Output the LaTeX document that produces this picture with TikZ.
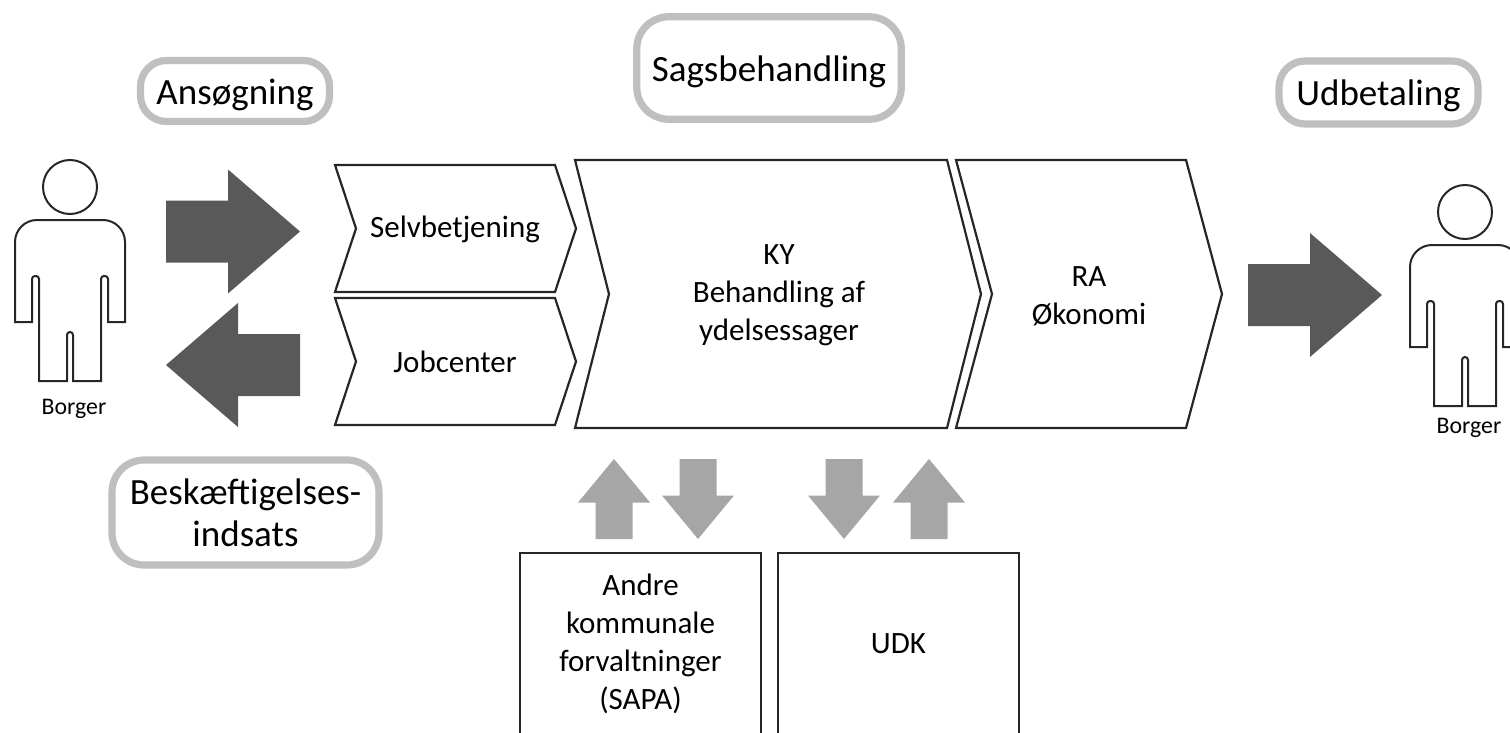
\documentclass[tikz,border=0pt]{standalone}
\usepackage{fontspec}
\setmainfont{Carlito}
\usetikzlibrary{calc}

\begin{document}
\begin{tikzpicture}[x=0.5pt,y=-0.5pt,
    phase/.style={draw=boxgray,line width=3.6pt,align=center,inner sep=0pt,
        font=\fontsize{18.5}{21}\selectfont},
    oneline/.style={text height=16.5pt},
    stagetext/.style={align=center,font=\fontsize{15.5}{19}\selectfont},
    stage/.style={draw=black!85,line width=1.1pt,line join=miter},
    person/.style={draw=black!85,line width=1pt}]
    \definecolor{boxgray}{HTML}{BFBFBF}
    \definecolor{darkarrow}{HTML}{595959}
    \definecolor{lightarrow}{HTML}{A6A6A6}

    \clip (0,0) rectangle (1510,733);

    % phase labels
    \node[phase,oneline,minimum width=94.5pt,minimum height=30.5pt,rounded corners=13pt]
        (ans) at (235,91) {Ansøgning};
    \node[phase,oneline,minimum width=132.25pt,minimum height=51.25pt,rounded corners=16pt]
        (sag) at (769,68) {Sagsbehandling};
    \node[phase,oneline,minimum width=99.5pt,minimum height=31.5pt,rounded corners=13pt]
        (udb) at (1378.5,92.5) {Udbetaling};
    \node[phase,minimum width=133.5pt,minimum height=52.5pt,rounded corners=16pt]
        (besk) at (245.5,512.5) {Beskæftigelses-\\indsats};

    % citizens
    \foreach \px/\py/\by/\nm in {70/220/189/left,1465/245/183/right} {
        \scope[shift={(\px,\py)}]
        \draw[person] (0,-33) circle (13.5pt);
        \draw[person] (-55,102) [rounded corners=11pt] -- (-55,0) -- (55,0)
            [sharp corners] -- (55,102) -- (38,102)
            [rounded corners=1.5pt] -- (38,56) -- (31,56)
            [sharp corners] -- (31,161) -- (3,161)
            [rounded corners=1.5pt] -- (3,112) -- (-3,112)
            [sharp corners] -- (-3,161) -- (-31,161)
            [rounded corners=1.5pt] -- (-31,56) -- (-38,56)
            [sharp corners] -- (-38,102) -- cycle;
        \node[font=\fontsize{11.9}{14}\selectfont] (borger-\nm) at (4,\by) {Borger};
        \endscope
    }

    % big arrows
    \foreach \ax/\ay/\rot in {166/231.5/0,300/365/180,1248/295/0}
        \fill[darkarrow,shift={(\ax,\ay)},rotate=\rot]
            (0,-31) -- (62,-31) -- (62,-62) -- (134,0) -- (62,62) -- (62,31) -- (0,31) -- cycle;

    % chevrons
    \foreach \l/\t/\r/\b/\d in {335/165/555/292/21,335/298/555/425/21,
                                575/160/947/428/34,956/160/1186/428/36}
        \draw[stage] (\l,\t) -- (\r,\t) -- ({\r+\d},{(\t+\b)/2}) -- (\r,\b)
            -- (\l,\b) -- ({\l+\d},{(\t+\b)/2}) -- cycle;
    \node[stagetext] (selv) at (455,229) {Selvbetjening};
    \node[stagetext] (job) at (455,362) {Jobcenter};
    \node[stagetext] (ky) at (779,295) {KY\\Behandling af\\ydelsessager};
    \node[stagetext] (ra) at (1089,296) {RA\\Økonomi};

    % small arrows
    \foreach \ax/\ay/\rot in {614/539/90,698/459/-90,844/459/-90,929/539/90}
        \fill[lightarrow,shift={(\ax,\ay)},rotate=\rot]
            (0,-18.5) -- (36.5,-18.5) -- (36.5,-36) -- (80,0) -- (36.5,36) -- (36.5,18.5) -- (0,18.5) -- cycle;

    % other systems
    \node[stagetext,draw=black!85,line width=1.1pt,minimum width=120.5pt,minimum height=91pt]
        (andre) at (640.5,644) {Andre\\kommunale\\forvaltninger\\(SAPA)};
    \node[stagetext,draw=black!85,line width=1.1pt,minimum width=120.5pt,minimum height=91pt]
        (udk) at (898.5,644) {UDK};
\end{tikzpicture}
\end{document}
